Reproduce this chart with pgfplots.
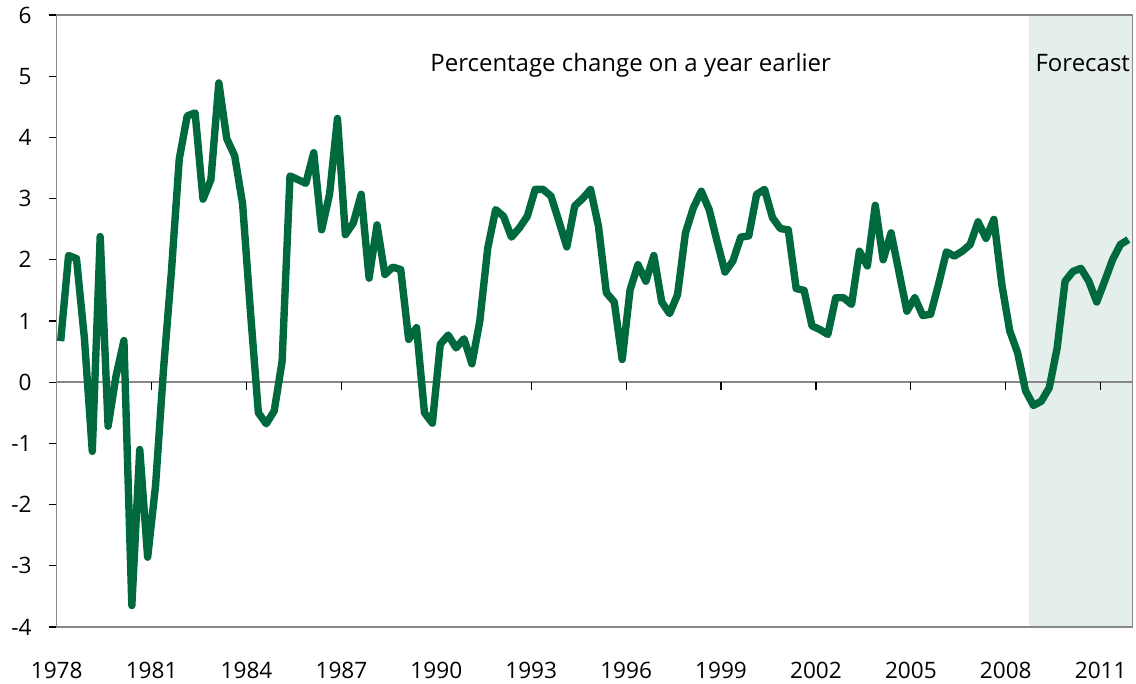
\documentclass[border=0pt]{standalone}
\usepackage{fontspec}
\setmainfont{Open Sans}
\usepackage{pgfplots}
\pgfplotsset{compat=1.18}
\definecolor{lineg}{RGB}{0,105,62}
\definecolor{shadec}{RGB}{228,238,234}
\definecolor{framec}{RGB}{135,135,135}
\pgfplotstableread{
x y
1978.125 0.67
1978.375 2.07
1978.625 2.02
1978.875 0.72
1979.125 -1.13
1979.375 2.38
1979.625 -0.72
1979.875 0.10
1980.125 0.68
1980.375 -3.65
1980.625 -1.10
1980.875 -2.86
1981.125 -1.69
1981.375 0.20
1981.625 1.80
1981.875 3.65
1982.125 4.35
1982.375 4.40
1982.625 2.99
1982.875 3.31
1983.125 4.89
1983.375 3.98
1983.625 3.70
1983.875 2.92
1984.125 1.15
1984.375 -0.50
1984.625 -0.68
1984.875 -0.47
1985.125 0.34
1985.375 3.37
1985.625 3.31
1985.875 3.25
1986.125 3.75
1986.375 2.49
1986.625 3.07
1986.875 4.31
1987.125 2.41
1987.375 2.60
1987.625 3.07
1987.875 1.70
1988.125 2.57
1988.375 1.76
1988.625 1.88
1988.875 1.84
1989.125 0.70
1989.375 0.89
1989.625 -0.50
1989.875 -0.67
1990.125 0.62
1990.375 0.77
1990.625 0.56
1990.875 0.71
1991.125 0.30
1991.375 1.00
1991.625 2.19
1991.875 2.82
1992.125 2.71
1992.375 2.37
1992.625 2.52
1992.875 2.71
1993.125 3.15
1993.375 3.15
1993.625 3.04
1993.875 2.63
1994.125 2.21
1994.375 2.88
1994.625 3.00
1994.875 3.15
1995.125 2.55
1995.375 1.46
1995.625 1.31
1995.875 0.37
1996.125 1.51
1996.375 1.92
1996.625 1.65
1996.875 2.07
1997.125 1.31
1997.375 1.12
1997.625 1.43
1997.875 2.44
1998.125 2.85
1998.375 3.12
1998.625 2.82
1998.875 2.30
1999.125 1.80
1999.375 1.98
1999.625 2.37
1999.875 2.39
2000.125 3.07
2000.375 3.15
2000.625 2.69
2000.875 2.51
2001.125 2.49
2001.375 1.53
2001.625 1.50
2001.875 0.92
2002.125 0.86
2002.375 0.78
2002.625 1.38
2002.875 1.38
2003.125 1.27
2003.375 2.14
2003.625 1.90
2003.875 2.89
2004.125 2.00
2004.375 2.44
2004.625 1.80
2004.875 1.16
2005.125 1.38
2005.375 1.09
2005.625 1.11
2005.875 1.60
2006.125 2.13
2006.375 2.06
2006.625 2.14
2006.875 2.25
2007.125 2.62
2007.375 2.35
2007.625 2.66
2007.875 1.60
2008.125 0.84
2008.375 0.48
2008.625 -0.14
2008.875 -0.38
2009.125 -0.31
2009.375 -0.09
2009.625 0.56
2009.875 1.65
2010.125 1.81
2010.375 1.86
2010.625 1.65
2010.875 1.31
2011.125 1.65
2011.375 2.00
2011.625 2.25
2011.875 2.33
}\gdp
\begin{document}
\begin{tikzpicture}
\path[use as bounding box] (0pt,0pt) rectangle (568pt,342pt);
\begin{axis}[
  at={(28.35pt,28.5pt)}, anchor=south west,
  scale only axis, width=537.8pt, height=306pt,
  xmin=1978, xmax=2012, ymin=-4, ymax=6,
  xtick={1978,1981,...,2011}, ytick={-4,-3,...,6},
  /pgf/number format/assume math mode=true,
  /pgf/number format/1000 sep={},
  tick label style={font=\fontsize{11.3}{13}\selectfont},
  axis on top,
  axis line style={draw=framec, line width=0.8pt},
  ytick pos=left, xtick pos=bottom,
  tick align=outside,
  major tick length=4pt,
  xtick style={draw=none},
  ytick style={black, line width=0.6pt},
  x tick label style={yshift=-10pt},
  y tick label style={xshift=-5pt},
  clip=false,
]
\fill[shadec] (axis cs:2008.75,-4) rectangle (axis cs:2012,6);
\draw[framec, line width=0.8pt] (axis cs:1978,0) -- (axis cs:2012,0);
\pgfplotsinvokeforeach{1981,1984,1987,1990,1993,1996,1999,2002,2005,2008,2011}{
  \draw[black, line width=0.6pt] (axis cs:#1,0) -- ++(0pt,-4pt);
}
\addplot[lineg, line width=3.7pt, line join=round, mark=none] table[x=x,y=y] {\gdp};
\draw[black, line width=0.8pt] (rel axis cs:0,0) -- (rel axis cs:0,1);
\node[anchor=base west, font=\fontsize{12}{14}\selectfont, inner sep=0pt] at (axis cs:1989.8,5.07) {Percentage change on a year earlier};
\node[anchor=base west, font=\fontsize{12}{14}\selectfont, inner sep=0pt] at (axis cs:2008.93,5.07) {Forecast};
\end{axis}
\end{tikzpicture}
\end{document}
